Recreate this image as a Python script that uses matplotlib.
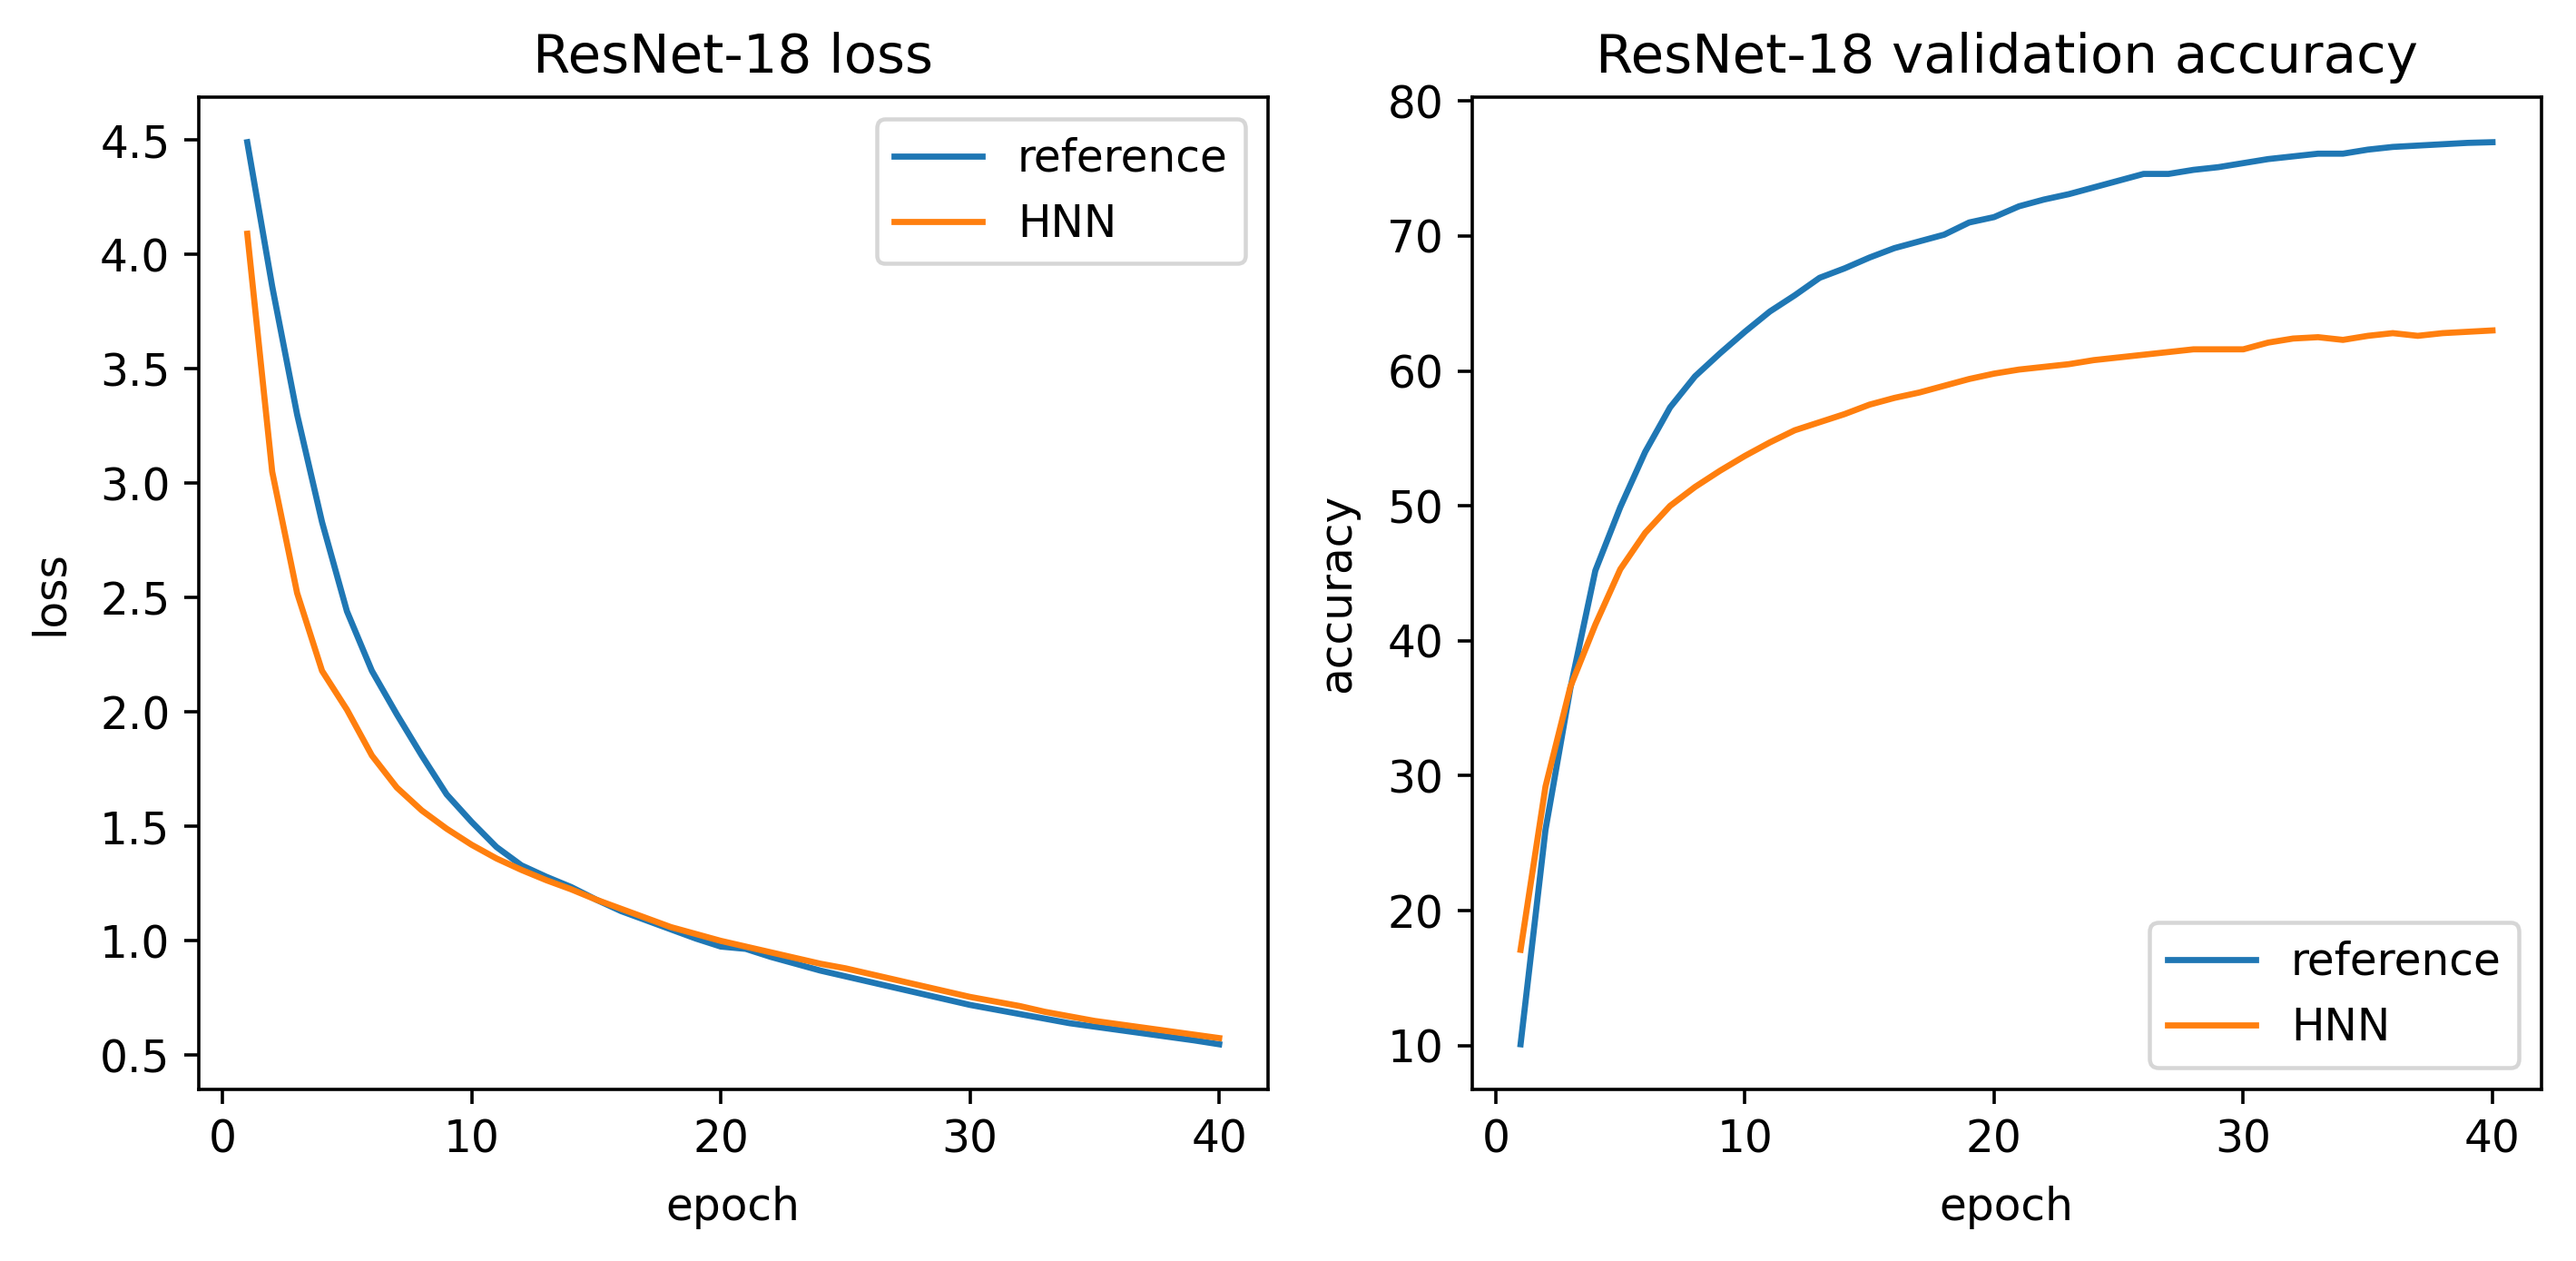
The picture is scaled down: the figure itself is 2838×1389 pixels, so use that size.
import numpy as np
import matplotlib
matplotlib.use("Agg")
import matplotlib.pyplot as plt

# epochs 1..40
epochs = list(range(1, 41))

loss_reference = [4.49, 3.86, 3.30, 2.83, 2.44, 2.18, 1.99, 1.81, 1.64, 1.52,
                  1.41, 1.33, 1.28, 1.235, 1.18, 1.13, 1.09, 1.05, 1.01, 0.975,
                  0.965, 0.93, 0.90, 0.87, 0.845, 0.82, 0.795, 0.77, 0.745, 0.72,
                  0.70, 0.68, 0.66, 0.64, 0.625, 0.61, 0.595, 0.58, 0.565, 0.548]
loss_hnn = [4.09, 3.05, 2.52, 2.18, 2.01, 1.81, 1.67, 1.57, 1.49, 1.42,
            1.36, 1.31, 1.265, 1.225, 1.18, 1.14, 1.10, 1.06, 1.03, 1.00,
            0.975, 0.95, 0.925, 0.90, 0.88, 0.855, 0.83, 0.805, 0.78, 0.755,
            0.735, 0.715, 0.69, 0.67, 0.65, 0.635, 0.62, 0.605, 0.59, 0.575]

acc_reference = [10.1, 26.0, 36.5, 45.2, 49.9, 54.0, 57.3, 59.6, 61.3, 62.9,
                 64.4, 65.6, 66.9, 67.6, 68.4, 69.1, 69.6, 70.1, 71.0, 71.4,
                 72.2, 72.7, 73.1, 73.6, 74.1, 74.6, 74.6, 74.9, 75.1, 75.4,
                 75.7, 75.9, 76.1, 76.1, 76.4, 76.6, 76.7, 76.8, 76.9, 76.95]
acc_hnn = [17.1, 29.2, 36.6, 41.2, 45.3, 48.0, 50.0, 51.4, 52.6, 53.7,
           54.7, 55.6, 56.2, 56.8, 57.5, 58.0, 58.4, 58.9, 59.4, 59.8,
           60.1, 60.3, 60.5, 60.8, 61.0, 61.2, 61.4, 61.6, 61.6, 61.6,
           62.1, 62.4, 62.5, 62.3, 62.6, 62.8, 62.6, 62.8, 62.9, 63.0]

plt.rcParams['font.size'] = 10.8
plt.rcParams['axes.titlesize'] = 13.2

fig, (ax1, ax2) = plt.subplots(1, 2, figsize=(2839 / 324, 1389 / 324), dpi=324)
plt.subplots_adjust(left=0.0771, right=0.9861, bottom=0.1361, top=0.923, wspace=0.191)

ax1.plot(epochs, loss_reference, label="reference")
ax1.plot(epochs, loss_hnn, label="HNN")
ax1.set_title("ResNet-18 loss")
ax1.set_xlabel("epoch", labelpad=6)
ax1.set_ylabel("loss", labelpad=7)
ax1.legend(loc="upper right")

ax2.plot(epochs, acc_reference, label="reference")
ax2.plot(epochs, acc_hnn, label="HNN")
ax2.set_title("ResNet-18 validation accuracy")
ax2.set_xlabel("epoch", labelpad=6)
ax2.set_ylabel("accuracy", labelpad=7)
ax2.legend(loc="lower right")

fig.savefig("out.png", dpi=324)
